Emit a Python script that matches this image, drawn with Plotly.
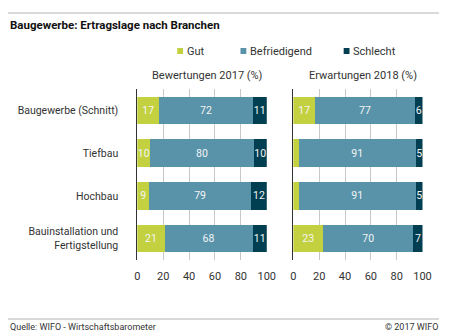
import plotly.graph_objects as go

categories = ["Baugewerbe (Schnitt)", "Tiefbau", "Hochbau", "Bauinstallation und<br>Fertigstellung"]
series_names = ["Gut", "Befriedigend", "Schlecht"]
colors = ["#c3d140", "#5893aa", "#003e52"]

bew_2017 = {
    "Gut": [17, 10, 9, 21],
    "Befriedigend": [72, 80, 79, 68],
    "Schlecht": [11, 10, 12, 11],
}
erw_2018 = {
    "Gut": [17, 4, 4, 23],
    "Befriedigend": [77, 91, 91, 70],
    "Schlecht": [6, 5, 5, 7],
}
panel_titles = ["Bewertungen 2017 (%)", "Erwartungen 2018 (%)"]
x_ticks = [0, 20, 40, 60, 80, 100]

FONT = "Roboto"
TXT = "#333333"
W, H = 450, 333

def px(x):
    return x / W

def py(y):
    return 1 - y / H

fig = go.Figure()
ypos = list(range(len(categories)))

for pi, data in enumerate([bew_2017, erw_2018]):
    xa = "x" if pi == 0 else "x2"
    for name, col in zip(series_names, colors):
        vals = data[name]
        fig.add_trace(go.Bar(
            y=ypos, x=vals, orientation="h", name=name,
            marker=dict(color=col, line=dict(width=0)),
            width=0.64,
            text=[str(v) if v >= 5 else "" for v in vals],
            textposition="inside", insidetextanchor="middle",
            textfont=dict(color="#f4f4f4", size=10.5, family=FONT),
            cliponaxis=False,
            showlegend=False, xaxis=xa, yaxis="y" if pi == 0 else "y2",
            hoverinfo="x+name",
        ))

ydom = [py(260), py(89)]
xaxis_common = dict(range=[0, 100], tickvals=x_ticks, showgrid=True, gridcolor="#c8c8c8",
                    gridwidth=1, zeroline=False, showline=False, ticklabelstandoff=8,
                    tickfont=dict(size=11, color=TXT, family=FONT), ticks="", fixedrange=True)
yaxis_common = dict(range=[3.5, -0.5], domain=ydom, showgrid=False, zeroline=False,
                    showline=True, linecolor="#333333", linewidth=1, ticks="")

fig.update_layout(
    width=W, height=H, margin=dict(l=0, r=0, t=0, b=0),
    paper_bgcolor="white", plot_bgcolor="white",
    barmode="stack", showlegend=False,
    font=dict(family=FONT, color=TXT),
    uniformtext=dict(minsize=10, mode="show"),
    xaxis=dict(domain=[px(138), px(271)], anchor="y", **xaxis_common),
    xaxis2=dict(domain=[px(298.3), px(431)], anchor="y2", **xaxis_common),
    yaxis=dict(anchor="x", tickvals=ypos, ticktext=categories,
               tickfont=dict(size=10.5, color=TXT, family=FONT), ticklabelstandoff=16,
               **yaxis_common),
    yaxis2=dict(anchor="x2", tickvals=ypos, showticklabels=False, **yaxis_common),
)

shapes = [
    dict(type="line", xref="paper", yref="paper", x0=px(5), x1=px(448), y0=py(13), y1=py(13),
         line=dict(color="#b4b4b4", width=1)),
    dict(type="line", xref="paper", yref="paper", x0=px(5), x1=px(448), y0=py(319), y1=py(319),
         line=dict(color="#b4b4b4", width=1)),
]
annotations = [
    dict(text="<b>Baugewerbe: Ertragslage nach Branchen</b>", x=px(5), y=py(25), xref="paper", yref="paper",
         xanchor="left", yanchor="middle", showarrow=False, font=dict(size=11.5, color="#111111", family=FONT)),
    dict(text="Quelle: WIFO - Wirtschaftsbarometer", x=px(5), y=py(327), xref="paper", yref="paper",
         xanchor="left", yanchor="middle", showarrow=False, font=dict(size=9, color=TXT, family=FONT)),
    dict(text="© 2017 WIFO", x=px(449), y=py(327), xref="paper", yref="paper",
         xanchor="right", yanchor="middle", showarrow=False, font=dict(size=9, color=TXT, family=FONT)),
    dict(text=panel_titles[0], x=px(210), y=py(75), xref="paper", yref="paper",
         xanchor="center", yanchor="middle", showarrow=False, font=dict(size=11, color=TXT, family=FONT)),
    dict(text=panel_titles[1], x=px(370), y=py(75), xref="paper", yref="paper",
         xanchor="center", yanchor="middle", showarrow=False, font=dict(size=11, color=TXT, family=FONT)),
]
legend_x = [179, 244, 350]
for lx, name, col in zip(legend_x, series_names, colors):
    shapes.append(dict(type="rect", xref="paper", yref="paper", x0=px(lx), x1=px(lx + 6),
                       y0=py(54), y1=py(48), fillcolor=col, line=dict(width=0)))
    annotations.append(dict(text=name, x=px(lx + 8), y=py(51), xref="paper", yref="paper",
                            xanchor="left", yanchor="middle", showarrow=False,
                            font=dict(size=11, color=TXT, family=FONT)))

fig.update_layout(shapes=shapes, annotations=annotations)
fig.write_html("out.html")
